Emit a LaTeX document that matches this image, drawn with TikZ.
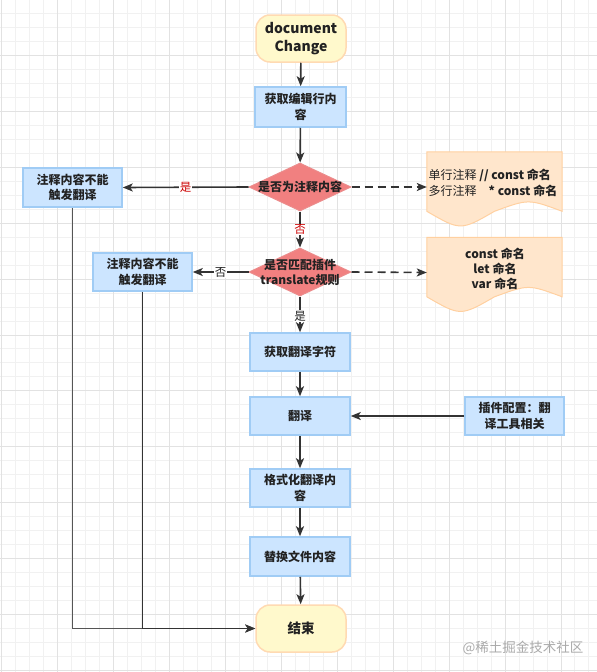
\documentclass[tikz,border=0pt]{standalone}
\usepackage{fontspec}
\setmainfont{Noto Sans CJK SC}
\usetikzlibrary{shapes.geometric,arrows.meta,calc}
\definecolor{boxfill}{RGB}{204,229,255}
\definecolor{boxline}{RGB}{160,204,245}
\definecolor{termfill}{RGB}{255,249,204}
\definecolor{termline}{RGB}{255,218,178}
\definecolor{diafill}{RGB}{241,128,128}
\definecolor{dialine}{RGB}{236,140,140}
\definecolor{notefill}{RGB}{255,230,204}
\definecolor{noteline}{RGB}{255,208,160}
\definecolor{arrc}{RGB}{51,51,51}
\definecolor{arrlight}{RGB}{85,85,85}
\definecolor{txt}{RGB}{34,34,34}
\definecolor{lblred}{RGB}{204,0,0}
\definecolor{gridmin}{RGB}{241,241,241}
\definecolor{gridmaj}{RGB}{226,226,226}
\definecolor{wm}{RGB}{170,170,170}
\newcommand\docshape[1]{%
  \path[fill=notefill,draw=noteline,line width=1pt]
    (#1.north west) -- (#1.north east) -- ($(#1.north east)+(0,59.5)$)
    .. controls ($(#1.north east)+(-33.75,47)$) .. ($(#1.north)+(0,59.5)$)
    .. controls ($(#1.north west)+(33.75,79)$) .. ($(#1.north west)+(0,59.5)$) -- cycle;}
\begin{document}
\begin{tikzpicture}[x=1pt,y=-1pt,
  box/.style={draw=boxline,fill=boxfill,line width=1.5pt,minimum width=100pt,minimum height=38pt,
    inner sep=2pt,align=center,text=txt,font=\fontsize{12}{15.5}\selectfont\bfseries},
  term/.style={draw=termline,fill=termfill,line width=1.5pt,rounded corners=14pt,minimum width=90pt,
    minimum height=47pt,align=center,text=txt},
  dia/.style={diamond,draw=dialine,fill=diafill,line width=1pt,minimum width=102pt,minimum height=48pt,inner sep=0pt},
  diatext/.style={align=center,text=txt,font=\fontsize{12}{15}\selectfont\bfseries},
  notebase/.style={minimum width=135pt,minimum height=70pt,inner sep=0pt},
  notetext/.style={text=txt,font=\fontsize{12}{15.5}\selectfont,inner sep=0pt},
  arr/.style={draw=arrc,line width=1.6pt,-{Stealth[length=10pt,width=8pt,inset=2.5pt]}},
  arrl/.style={draw=arrlight,line width=1.6pt,-{Stealth[length=10pt,width=8pt,inset=2.5pt]}},
  dasharr/.style={arr,dash pattern=on 8pt off 5pt},
  lbl/.style={fill=white,inner sep=1pt,font=\fontsize{11.5}{13}\selectfont},
]
\useasboundingbox (0,0) rectangle (597,672);
\fill[white] (0,0) rectangle (597,672);
% grid
\foreach \k in {0,...,42}{\pgfmathsetmacro\xx{1.4+13.99*\k}\draw[gridmin,line width=1pt] (\xx,0) -- (\xx,672);}
\foreach \k in {1,...,48}{\pgfmathsetmacro\yy{-0.16+13.965*\k}\draw[gridmin,line width=1pt] (0,\yy) -- (597,\yy);}
\foreach \k in {0,4,...,40}{\pgfmathsetmacro\xx{1.4+13.99*\k}\draw[gridmaj,line width=1pt] (\xx,0) -- (\xx,672);}
\foreach \k in {4,8,...,48}{\pgfmathsetmacro\yy{-0.16+13.965*\k}\draw[gridmaj,line width=1pt] (0,\yy) -- (597,\yy);}

% nodes
\node[term,font=\fontsize{14}{17.5}\selectfont\bfseries] (start) at (301,38.5) {document\\Change};
\node[box,minimum width=91pt,minimum height=40pt] (get) at (300.5,107) {获取编辑行内\\容};
\node[dia] (d1) at (300,187) {};
\node[diatext] (d1t) at (d1.center) {是否为注释内容};
\node[box,minimum width=99pt,minimum height=39pt] (lb1) at (72.5,187.5) {注释内容不能\\触发翻译};
\node[notebase] (note1) at (494.5,187) {};
\docshape{note1}
\node[notetext,anchor=west,align=left] (n1t) at (428.5,183) {单行注释 \textbf{// const 命名}\\多行注释\quad\textbf{* const 命名}};

\node[dia] (d2) at (300,272) {};
\node[diatext] (d2t) at (d2.center) {是否匹配插件\\translate规则};
\node[box,minimum width=99pt,minimum height=38pt] (lb2) at (142.5,272) {注释内容不能\\触发翻译};
\node[notebase] (note2) at (494.5,272.5) {};
\docshape{note2}
\node[notetext,align=center,font=\fontsize{12}{15}\selectfont\bfseries] (n2t) at (495,269) {const 命名\\let 命名\\var 命名};

\node[box] (gt) at (300,352) {获取翻译字符};
\node[box] (tr) at (300,416) {翻译};
\node[box,minimum width=99pt] (cfg) at (514.5,416) {插件配置：翻\\译工具相关};
\node[box] (fmt) at (300,488) {格式化翻译内\\容};
\node[box,minimum height=39pt] (rep) at (300,556.5) {替换文件内容};
\node[term,font=\fontsize{13.5}{16}\selectfont\bfseries] (end) at (301,628.5) {结束};

\node[text=wm,font=\fontsize{13.5}{15}\selectfont,inner sep=0pt] (wmk) at (523,648) {@稀土掘金技术社区};

% connectors
\draw[arr] (start) -- (get);
\draw[arr] (get) -- (d1);
\draw[arr] (d1.west) -- node[lbl,text=lblred] {是} (lb1.east);
\draw[dasharr] (d1.east) -- (note1.west);
\draw[arr] (d1.south) -- node[lbl,text=lblred] {否} (d2.north);
\draw[arr] (d2.west) -- node[lbl,text=txt] {否} (lb2.east);
\draw[dasharr] (d2.east) -- (note2.west);
\draw[arr] (d2.south) -- node[lbl,text=txt,pos=0.55] {是} (gt.north);
\draw[arr] (gt) -- (tr);
\draw[arr] (cfg.west) -- (tr.east);
\draw[arr] (tr) -- (fmt);
\draw[arr] (fmt) -- (rep);
\draw[arr] (rep) -- (end);
\draw[arrl] (lb1.south) |- (end.west);
\draw[arr] (lb2.south) |- (end.west);
\end{tikzpicture}
\end{document}
